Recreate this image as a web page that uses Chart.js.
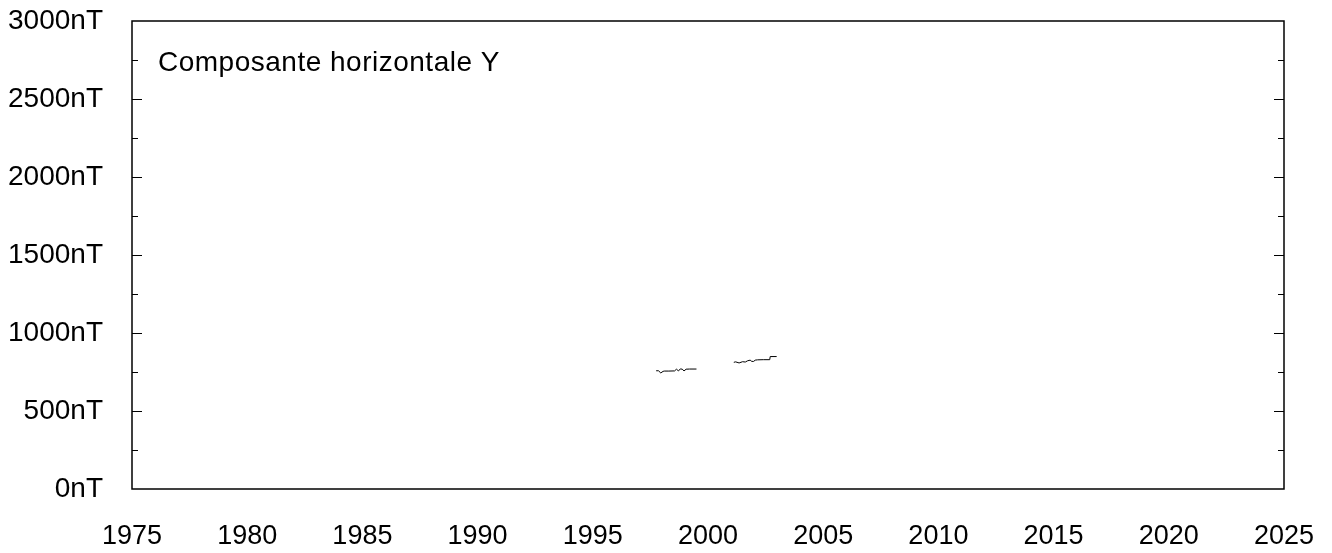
<!DOCTYPE html>
<html>
<head>
<meta charset="utf-8">
<script src="https://cdn.jsdelivr.net/npm/chart.js@4"></script>
<style>
  html, body { margin: 0; padding: 0; background: #fff; }
  #wrap { width: 1332px; height: 553px; }
</style>
</head>
<body>
<div id="wrap"><canvas id="canvas" width="1332" height="553"></canvas></div>
<script>
// Y component readings (year, nT); null = gap in the record
var years = [1997.75, 1997.85, 1997.95, 1998.05, 1998.1, 1998.3, 1998.55, 1998.63, 1998.72, 1998.8, 1998.88, 1998.96, 1999.05, 1999.2, 1999.5,
    2000.4,
    2001.12, 2001.2, 2001.35, 2001.5, 2001.62, 2001.72, 2001.83, 2001.9, 2001.98, 2002.05, 2002.15, 2002.4, 2002.68, 2002.7, 2002.98];
var valuesY = [758, 758, 744, 754, 756, 756, 757, 768, 757, 770, 768, 757, 768, 769, 769,
    null,
    812, 815, 808, 816, 814, 822, 826, 818, 818, 826, 828, 829, 829, 849, 849];
var yearTicks = [1975, 2025, 5];
var nTTicks = [0, 3000, 250];
var title = 'Composante horizontale Y';

var FONT = '"Liberation Sans", Arial, sans-serif';

var points = [];
for (var i = 0; i < years.length; i++) points.push({ x: years[i], y: valuesY[i] });

var framePlugin = {
    id: 'frame',
    afterDraw: function (chart) {
        var ctx = chart.ctx;
        var a = chart.chartArea;
        var ys = chart.scales.y;
        ctx.save();
        ctx.strokeStyle = '#000';
        ctx.lineWidth = 1.5;
        ctx.strokeRect(a.left, a.top, a.right - a.left, a.bottom - a.top);
        // inside ticks on left and right
        ctx.lineWidth = 1;
        for (var i = 0; i < ys.ticks.length; i++) {
            var v = ys.ticks[i].value;
            if (v === nTTicks[0] || v === nTTicks[1]) continue;
            var py = Math.round(ys.getPixelForValue(v)) + 0.5;
            var len = v % 500 === 0 ? 10 : 6;
            ctx.beginPath();
            ctx.moveTo(a.left, py); ctx.lineTo(a.left + len, py);
            ctx.moveTo(a.right, py); ctx.lineTo(a.right - len, py);
            ctx.stroke();
        }
        ctx.fillStyle = '#000';
        ctx.font = '28px ' + FONT;
        ctx.textAlign = 'left';
        ctx.textBaseline = 'middle';
        if ('letterSpacing' in ctx) ctx.letterSpacing = '0.5px';
        ctx.fillText(title, a.left + 26, a.top + 42);
        ctx.restore();
    }
};

new Chart('canvas', {
    type: 'line',
    data: {
        datasets: [{
            data: points,
            borderColor: '#000',
            borderWidth: 1,
            pointRadius: 0,
            tension: 0,
            spanGaps: false
        }]
    },
    options: {
        responsive: false,
        animation: false,
        layout: { padding: { left: 0, right: 48, top: 21, bottom: 0 } },
        plugins: { legend: { display: false }, tooltip: { enabled: false } },
        scales: {
            x: {
                type: 'linear',
                min: yearTicks[0],
                max: yearTicks[1],
                grid: { display: false, drawTicks: false },
                border: { display: false },
                ticks: {
                    stepSize: yearTicks[2],
                    autoSkip: false,
                    maxRotation: 0,
                    padding: 31,
                    color: '#000',
                    font: { family: FONT, size: 27 },
                    callback: function (v) { return String(v); }
                },
                afterFit: function (s) {
                    s.height = 64;
                    s.paddingLeft = 0; s.paddingRight = 0;
                }
            },
            y: {
                min: nTTicks[0],
                max: nTTicks[1],
                grid: { display: false, drawTicks: false },
                border: { display: false },
                ticks: {
                    stepSize: nTTicks[2],
                    autoSkip: false,
                    padding: 29,
                    color: '#000',
                    font: { family: FONT, size: 28 },
                    callback: function (v) { return v % 500 === 0 ? v + 'nT' : ''; }
                },
                afterFit: function (s) {
                    s.width = 132;
                    s.paddingTop = 0; s.paddingBottom = 0;
                }
            }
        }
    },
    plugins: [framePlugin]
});
</script>
</body>
</html>
